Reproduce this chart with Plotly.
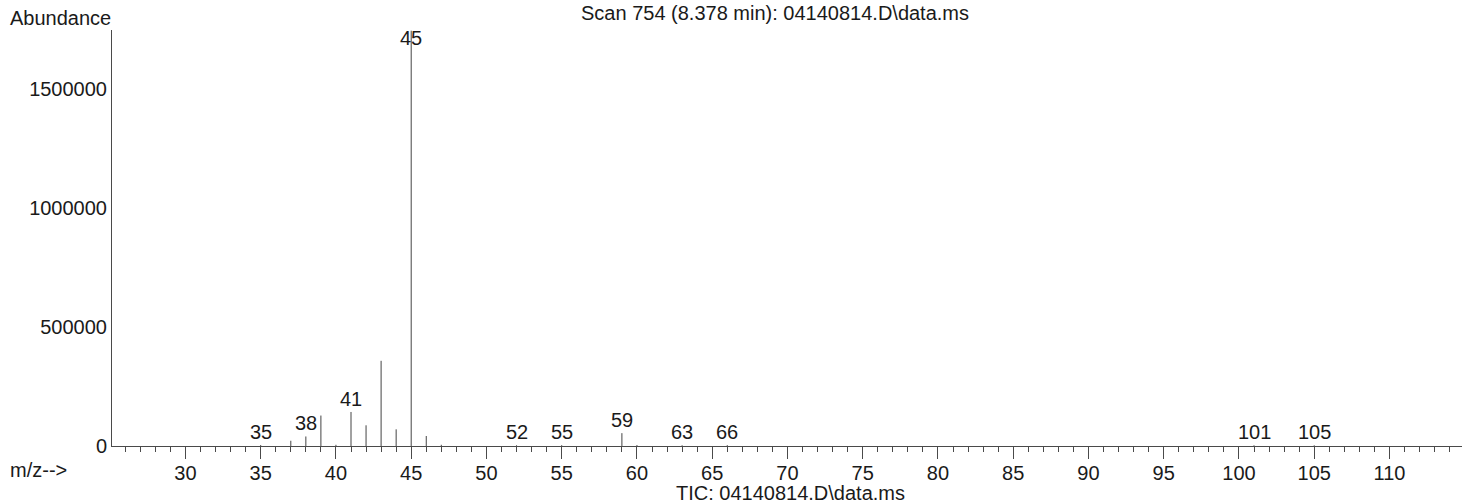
import plotly.graph_objects as go

# m/z values and abundances
mz = [35, 37, 38, 39, 40, 41, 42, 43, 44, 45, 46, 47, 52, 55, 59, 60, 63, 66, 101, 105]
abundance = [4000, 22000, 40000, 128000, 5000, 143000, 87000, 358000, 70000, 1745000,
             42000, 5000, 3000, 3500, 54000, 4000, 3000, 3500, 3000, 3000]
labeled_mz = [35, 38, 41, 45, 52, 55, 59, 63, 66, 101, 105]

x_range = [25.12, 114.82]
y_max = 1748000
y_tickvals = [0, 500000, 1000000, 1500000]
x_tickvals = [30, 35, 40, 45, 50, 55, 60, 65, 70, 75, 80, 85, 90, 95, 100, 105, 110]

title_text = "Scan 754 (8.378 min): 04140814.D\\data.ms"
footer_text = "TIC: 04140814.D\\data.ms"

FONT = "Liberation Sans, Arial, sans-serif"
FS = 20
TXT = "#1a1a1a"
AX = "#4a4a4a"

xs, ys = [], []
for m, a in zip(mz, abundance):
    xs += [m, m, None]
    ys += [0, a, None]

fig = go.Figure()
fig.add_trace(go.Scatter(x=xs, y=ys, mode="lines",
                         line=dict(color="#444444", width=1),
                         hoverinfo="skip", showlegend=False))
# invisible trace on the overlaid label axis so it is drawn
fig.add_trace(go.Scatter(x=[x_range[0]], y=[0], xaxis="x2", mode="markers",
                         marker=dict(opacity=0), hoverinfo="skip", showlegend=False))

W, H = 1463, 504
L, R, T, B = 112, 1, 30, 58
pw = W - L - R
ph = H - T - B

annotations = []
ab = dict(zip(mz, abundance))
for m in labeled_mz:
    annotations.append(dict(x=m, y=min(ab[m], 0.95 * y_max), xref="x", yref="y",
                            text=str(m), showarrow=False, yanchor="bottom",
                            xanchor="center", font=dict(family=FONT, size=FS, color=TXT)))

def px_x(p):
    return (p - L) / pw

def px_y(p):
    return (H - B - p) / ph

annotations += [
    dict(x=px_x(8), y=px_y(18), xref="paper", yref="paper", text="Abundance",
         showarrow=False, xanchor="left", yanchor="middle",
         font=dict(family=FONT, size=FS, color=TXT)),
    dict(x=px_x(8), y=px_y(470), xref="paper", yref="paper", text="m/z-->",
         showarrow=False, xanchor="left", yanchor="middle",
         font=dict(family=FONT, size=FS, color=TXT)),
    dict(x=px_x(775), y=px_y(13), xref="paper", yref="paper", text=title_text,
         showarrow=False, xanchor="center", yanchor="middle",
         font=dict(family=FONT, size=FS, color=TXT)),
    dict(x=px_x(790), y=px_y(493), xref="paper", yref="paper", text=footer_text,
         showarrow=False, xanchor="center", yanchor="middle",
         font=dict(family=FONT, size=FS, color=TXT)),
]

fig.update_layout(
    width=W, height=H,
    margin=dict(l=L, r=R, t=T, b=B, pad=0),
    paper_bgcolor="white", plot_bgcolor="white",
    annotations=annotations,
    font=dict(family=FONT, size=FS, color=TXT),
    xaxis=dict(
        range=x_range, showgrid=False, zeroline=False,
        showline=True, linecolor=AX, linewidth=1,
        tickmode="linear", tick0=0, dtick=5, showticklabels=False,
        ticks="outside", ticklen=12, tickcolor=AX, tickwidth=1,
        minor=dict(dtick=1, tick0=0, ticks="outside", ticklen=5, tickcolor=AX,
                   tickwidth=1, showgrid=False),
    ),
    xaxis2=dict(
        range=x_range, overlaying="x", side="bottom", anchor="y",
        showgrid=False, zeroline=False, showline=False,
        tickmode="array", tickvals=x_tickvals,
        ticks="outside", ticklen=9, tickcolor="rgba(0,0,0,0)",
        tickfont=dict(family=FONT, size=FS, color=TXT),
    ),
    yaxis=dict(
        range=[0, y_max], showgrid=False, zeroline=False,
        showline=True, linecolor=AX, linewidth=1,
        tickmode="array", tickvals=y_tickvals, tickformat="d",
        ticks="", ticklabelstandoff=0,
        tickfont=dict(family=FONT, size=FS, color=TXT),
    ),
)

fig.write_html("out.html", config={"displayModeBar": False},
               post_script="document.body.style.margin='0';")
